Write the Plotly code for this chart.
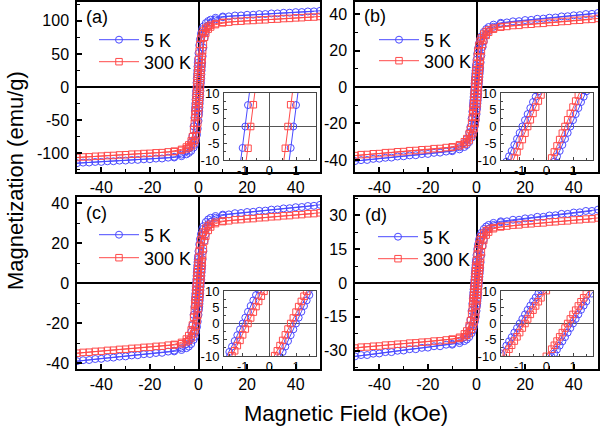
import plotly.graph_objects as go

FONT = "Arial, Liberation Sans, sans-serif"
BLUE = "#4a4aff"
RED = "#ff4a4a"

# ---- magnetic field grids (kOe) ----
H_down = [50, 45, 40, 35, 30, 25, 20, 15, 10, 7, 5, 4, 3, 2, 1.5, 1, 0.6, 0.3, 0,
          -0.2, -0.3, -0.4, -0.5, -0.6, -0.7, -0.8, -0.9, -1.0, -1.1, -1.2, -1.3, -1.4, -1.5,
          -1.7, -2, -2.5, -3, -4, -5, -7, -10,
          -12.5, -17.5, -22.5, -27.5, -32.5, -37.5, -42.5, -47.5]
H_up = [-50, -45, -40, -35, -30, -25, -20, -15, -10, -7, -5, -4, -3, -2, -1.5, -1, -0.6, -0.3, 0,
        0.2, 0.3, 0.4, 0.5, 0.6, 0.7, 0.8, 0.9, 1.0, 1.1, 1.2, 1.3, 1.4, 1.5,
        1.7, 2, 2.5, 3, 4, 5, 7, 10,
        12.5, 17.5, 22.5, 27.5, 32.5, 37.5, 42.5, 47.5]

# ---- magnetization (emu/g) ----
a5_down = [115.2, 114.2, 113.2, 112.2, 111.2, 110.2, 109.2, 108.1, 106.6, 104.6, 101.8, 99.7, 96.6, 91.5, 87.3, 80.5, 71.9, 63.0, 51.2,
           41.8, 36.5, 30.9, 25.1, 19.1, 12.8, 6.4, 0.0, -6.4, -12.8, -19.1, -25.1, -30.9, -36.5,
           -46.7, -59.4, -74.3, -83.5, -92.8, -97.3, -102.2, -105.5,
           -106.8, -108.2, -109.3, -110.3, -111.3, -112.3, -113.3, -114.3]
a5_up = [-115.2, -114.2, -113.2, -112.2, -111.2, -110.2, -109.2, -108.1, -106.6, -104.6, -101.8, -99.7, -96.6, -91.5, -87.3, -80.5, -71.9, -63.0, -51.2,
         -41.8, -36.5, -30.9, -25.1, -19.1, -12.8, -6.4, 0.0, 6.4, 12.8, 19.1, 25.1, 30.9, 36.5,
         46.7, 59.4, 74.3, 83.5, 92.8, 97.3, 102.2, 105.5,
         106.8, 108.2, 109.3, 110.3, 111.3, 112.3, 113.3, 114.3]
a300_down = [106.6, 105.6, 104.5, 103.5, 102.4, 101.4, 100.3, 99.2, 97.7, 95.8, 93.5, 91.6, 89.0, 84.5, 80.4, 73.5, 64.5, 54.6, 41.5,
             31.0, 25.3, 19.2, 12.9, 6.5, 0.0, -6.5, -12.9, -19.2, -25.3, -31.0, -36.4, -41.5, -46.3,
             -54.6, -64.5, -75.2, -81.4, -87.5, -90.7, -94.3, -97.0,
             -98.1, -99.5, -100.6, -101.6, -102.7, -103.7, -104.8, -105.8]
a300_up = [-106.6, -105.6, -104.5, -103.5, -102.4, -101.4, -100.3, -99.2, -97.7, -95.8, -93.5, -91.6, -89.0, -84.5, -80.4, -73.5, -64.5, -54.6, -41.5,
           -31.0, -25.3, -19.2, -12.9, -6.5, 0.0, 6.5, 12.9, 19.2, 25.3, 31.0, 36.4, 41.5, 46.3,
           54.6, 64.5, 75.2, 81.4, 87.5, 90.7, 94.3, 97.0,
           98.1, 99.5, 100.6, 101.6, 102.7, 103.7, 104.8, 105.8]

b5_down = [40.6, 40.0, 39.3, 38.7, 38.0, 37.4, 36.7, 36.0, 35.2, 34.2, 32.9, 31.8, 30.2, 27.8, 26.1, 23.8, 21.1, 18.3, 14.9,
           12.1, 10.5, 8.9, 7.3, 5.5, 3.7, 1.9, 0.0, -1.9, -3.7, -5.5, -7.3, -8.9, -10.5,
           -13.5, -17.3, -21.9, -24.9, -28.5, -30.6, -33.0, -34.7,
           -35.4, -36.1, -36.8, -37.5, -38.1, -38.8, -39.4, -40.1]
b5_up = [-40.6, -40.0, -39.3, -38.7, -38.0, -37.4, -36.7, -36.0, -35.2, -34.2, -32.9, -31.8, -30.2, -27.8, -26.1, -23.8, -21.1, -18.3, -14.9,
         -12.1, -10.5, -8.9, -7.3, -5.5, -3.7, -1.9, 0.0, 1.9, 3.7, 5.5, 7.3, 8.9, 10.5,
         13.5, 17.3, 21.9, 24.9, 28.5, 30.6, 33.0, 34.7,
         35.4, 36.1, 36.8, 37.5, 38.1, 38.8, 39.4, 40.1]
b300_down = [37.6, 37.0, 36.5, 35.9, 35.4, 34.8, 34.3, 33.7, 33.1, 32.3, 31.3, 30.4, 29.0, 26.9, 25.2, 22.8, 19.8, 16.6, 12.7,
             9.4, 7.6, 5.8, 3.9, 2.0, 0.0, -2.0, -3.9, -5.8, -7.6, -9.4, -11.1, -12.7, -14.2,
             -16.6, -19.8, -23.4, -25.7, -28.3, -30.0, -31.7, -32.8,
             -33.2, -33.8, -34.4, -34.9, -35.5, -36.0, -36.6, -37.1]
b300_up = [-37.6, -37.0, -36.5, -35.9, -35.4, -34.8, -34.3, -33.7, -33.1, -32.3, -31.3, -30.4, -29.0, -26.9, -25.2, -22.8, -19.8, -16.6, -12.7,
           -9.4, -7.6, -5.8, -3.9, -2.0, 0.0, 2.0, 3.9, 5.8, 7.6, 9.4, 11.1, 12.7, 14.2,
           16.6, 19.8, 23.4, 25.7, 28.3, 30.0, 31.7, 32.8,
           33.2, 33.8, 34.4, 34.9, 35.5, 36.0, 36.6, 37.1]

c5_down = [39.1, 38.5, 37.9, 37.3, 36.7, 36.1, 35.5, 34.9, 34.2, 33.5, 32.6, 31.8, 30.5, 28.4, 26.9, 24.4, 21.9, 19.3, 15.9,
           13.3, 11.9, 10.4, 8.75, 7.1, 5.4, 3.6, 1.8, 0.0, -1.8, -3.6, -5.4, -7.1, -8.75,
           -11.9, -15.9, -21.1, -24.4, -28.4, -30.5, -32.6, -33.8,
           -34.3, -35.0, -35.6, -36.2, -36.8, -37.4, -38.0, -38.6]
c5_up = [-39.1, -38.5, -37.9, -37.3, -36.7, -36.1, -35.5, -34.9, -34.2, -33.5, -32.6, -31.8, -30.5, -28.4, -26.9, -24.4, -21.9, -19.3, -15.9,
         -13.3, -11.9, -10.4, -8.75, -7.1, -5.4, -3.6, -1.8, 0.0, 1.8, 3.6, 5.4, 7.1, 8.75,
         11.9, 15.9, 21.1, 24.4, 28.4, 30.5, 32.6, 33.8,
         34.3, 35.0, 35.6, 36.2, 36.8, 37.4, 38.0, 38.6]
c300_down = [35.1, 34.6, 34.1, 33.6, 33.1, 32.6, 32.1, 31.6, 31.0, 30.4, 29.4, 28.7, 27.4, 25.4, 23.8, 21.6, 18.8, 16.2, 12.7,
             9.9, 8.4, 6.8, 5.2, 3.5, 1.7, 0.0, -1.7, -3.5, -5.2, -6.8, -8.4, -9.9, -11.3,
             -13.9, -17.1, -21.0, -23.4, -26.3, -28.0, -29.7, -30.7,
             -31.1, -31.7, -32.2, -32.7, -33.2, -33.7, -34.2, -34.7]
c300_up = [-35.1, -34.6, -34.1, -33.6, -33.1, -32.6, -32.1, -31.6, -31.0, -30.4, -29.4, -28.7, -27.4, -25.4, -23.8, -21.6, -18.8, -16.2, -12.7,
           -9.9, -8.4, -6.8, -5.2, -3.5, -1.7, 0.0, 1.7, 3.5, 5.2, 6.8, 8.4, 9.9, 11.3,
           13.9, 17.1, 21.0, 23.4, 26.3, 28.0, 29.7, 30.7,
           31.1, 31.7, 32.2, 32.7, 33.2, 33.7, 34.2, 34.7]

d5_down = [32.6, 32.0, 31.3, 30.7, 30.0, 29.4, 28.7, 28.1, 27.4, 26.7, 25.8, 25.1, 24.0, 22.3, 21.0, 19.2, 17.0, 15.0, 12.4,
           10.3, 9.2, 8.0, 6.8, 5.5, 4.2, 2.8, 1.4, 0.0, -1.4, -2.8, -4.2, -5.5, -6.8,
           -9.2, -12.4, -16.4, -19.2, -22.3, -24.0, -25.8, -27.0,
           -27.4, -28.1, -28.8, -29.4, -30.1, -30.7, -31.4, -32.0]
d5_up = [-32.6, -32.0, -31.3, -30.7, -30.0, -29.4, -28.7, -28.1, -27.4, -26.7, -25.8, -25.1, -24.0, -22.3, -21.0, -19.2, -17.0, -15.0, -12.4,
         -10.3, -9.2, -8.0, -6.8, -5.5, -4.2, -2.8, -1.4, 0.0, 1.4, 2.8, 4.2, 5.5, 6.8,
         9.2, 12.4, 16.4, 19.2, 22.3, 24.0, 25.8, 27.0,
         27.4, 28.1, 28.8, 29.4, 30.1, 30.7, 31.4, 32.0]
d300_down = [28.9, 28.4, 28.0, 27.5, 27.1, 26.6, 26.2, 25.7, 25.2, 24.6, 23.9, 23.2, 22.1, 20.5, 19.2, 17.3, 15.2, 12.9, 10.1,
             7.9, 6.7, 5.4, 4.1, 2.8, 1.4, 0.0, -1.4, -2.8, -4.1, -5.4, -6.7, -7.9, -9.1,
             -11.1, -13.7, -16.8, -18.9, -21.3, -22.6, -24.1, -24.9,
             -25.3, -25.8, -26.3, -26.7, -27.2, -27.6, -28.1, -28.5]
d300_up = [-28.9, -28.4, -28.0, -27.5, -27.1, -26.6, -26.2, -25.7, -25.2, -24.6, -23.9, -23.2, -22.1, -20.5, -19.2, -17.3, -15.2, -12.9, -10.1,
           -7.9, -6.7, -5.4, -4.1, -2.8, -1.4, 0.0, 1.4, 2.8, 4.1, 5.4, 6.7, 7.9, 9.1,
           11.1, 13.7, 16.8, 18.9, 21.3, 22.6, 24.1, 24.9,
           25.3, 25.8, 26.3, 26.7, 27.2, 27.6, 28.1, 28.5]

# ---- labels / ticks ----
series_names = ["5 K", "300 K"]
panel_labels = ["(a)", "(b)", "(c)", "(d)"]
x_tickvals = [-40, -20, 0, 20, 40]
x_ticktext = ["-40", "-20", "0", "20", "40"]
y_tickvals = [[-100, -50, 0, 50, 100], [-40, -20, 0, 20, 40], [-40, -20, 0, 20, 40], [-30, -15, 0, 15, 30]]
y_ticktext = [["-100", "-50", "0", "50", "100"], ["-40", "-20", "0", "20", "40"],
              ["-40", "-20", "0", "20", "40"], ["-30", "-15", "0", "15", "30"]]
y_ranges = [[-128.5, 128.5], [-46.6, 46.6], [-43, 43], [-38.2, 38.2]]
y_minor = [25, 10, 10, 7.5]
in_x_tickvals = [-1, 0, 1]
in_x_ticktext = ["-1", "0", "1"]
in_y_tickvals = [-10, -5, 0, 5, 10]
in_y_ticktext = ["-10", "-5", "0", "5", "10"]

data = [(a5_down, a5_up, a300_down, a300_up),
        (b5_down, b5_up, b300_down, b300_up),
        (c5_down, c5_up, c300_down, c300_up),
        (d5_down, d5_up, d300_down, d300_up)]

W, H = 600, 430
def px(x): return x / W
def py(y): return 1 - y / H

main_xdom = [[px(77), px(320)], [px(355), px(598)], [px(77), px(320)], [px(355), px(598)]]
main_ydom = [[py(172), py(2)], [py(172), py(2)], [py(369), py(197)], [py(369), py(197)]]
ins_xdom = [[px(224), px(316)], [px(501), px(593)], [px(224), px(316)], [px(501), px(593)]]
ins_ydom = [[py(160), py(93)], [py(160), py(93)], [py(356), py(291)], [py(356), py(291)]]
# legend rows: (left x, centre y) for 5 K and 300 K in each panel
legend_rows = [[(94, 40), (94, 62)], [(374, 40), (374, 61)],
               [(94, 235), (94, 258)], [(373, 237), (373, 259)]]
label_pos = [(px(97), py(16.5)), (px(375), py(16)), (px(97), py(213)), (px(376), py(215))]

fig = go.Figure()
styles = [(BLUE, "circle-open", 7), (RED, "square-open", 6.5)]

for i, (m5d, m5u, m3d, m3u) in enumerate(data):
    mx = "x" if i == 0 else f"x{i+1}"
    my = "y" if i == 0 else f"y{i+1}"
    ix, iy = f"x{i+5}", f"y{i+5}"
    for k, ((md, mu), name, (col, sym, sz)) in enumerate(zip([(m5d, m5u), (m3d, m3u)], series_names, styles)):
        n = 2 * i + k + 1
        leg = "legend" if n == 1 else f"legend{n}"
        for ax_x, ax_y, show in [(mx, my, True), (ix, iy, False)]:
            fig.add_trace(go.Scatter(
                x=H_down + H_up, y=md + mu, mode="lines+markers", name=name,
                legend=leg, showlegend=show, xaxis=ax_x, yaxis=ax_y,
                line=dict(color=col, width=1),
                marker=dict(symbol=sym, size=sz, color=col, line=dict(width=1, color=col))))

layout = dict(width=W, height=H, margin=dict(l=0, r=0, t=0, b=0, autoexpand=False),
              paper_bgcolor="white", plot_bgcolor="white",
              font=dict(family=FONT, color="black"))

for i in range(4):
    sx = "" if i == 0 else str(i + 1)
    mx = "x" if i == 0 else f"x{i+1}"
    my = "y" if i == 0 else f"y{i+1}"
    layout["xaxis" + sx] = dict(
        domain=main_xdom[i], range=[-50, 50], anchor=my, automargin=False,
        tickmode="array", tickvals=x_tickvals, ticktext=x_ticktext,
        ticks="inside", ticklen=5, tickwidth=1.5, tickcolor="black",
        minor=dict(tickmode="linear", tick0=0, dtick=10, ticks="inside", ticklen=3, tickwidth=1, tickcolor="black"),
        showline=True, linecolor="black", linewidth=1.5, mirror=True,
        showgrid=False, zeroline=True, zerolinecolor="black", zerolinewidth=1.5,
        tickfont=dict(size=16, family=FONT, color="black"))
    layout["yaxis" + sx] = dict(
        domain=main_ydom[i], range=y_ranges[i], anchor=mx, automargin=False,
        tickmode="array", tickvals=y_tickvals[i], ticktext=y_ticktext[i],
        ticks="inside", ticklen=5, tickwidth=1.5, tickcolor="black",
        minor=dict(tickmode="linear", tick0=0, dtick=y_minor[i], ticks="inside", ticklen=3, tickwidth=1, tickcolor="black"),
        showline=True, linecolor="black", linewidth=1.5, mirror=True,
        showgrid=False, zeroline=True, zerolinecolor="black", zerolinewidth=1.5,
        tickfont=dict(size=16, family=FONT, color="black"), ticklabelstandoff=3)
    j = i + 5
    layout[f"xaxis{j}"] = dict(
        domain=ins_xdom[i], range=[-1.7, 1.75], anchor=f"y{j}", automargin=False,
        tickmode="array", tickvals=in_x_tickvals, ticktext=in_x_ticktext,
        ticks="inside", ticklen=3, tickwidth=1, tickcolor="#444",
        minor=dict(tickmode="linear", tick0=0, dtick=0.5, ticks="inside", ticklen=2, tickwidth=1, tickcolor="#444"),
        showline=True, linecolor="#444", linewidth=1, mirror=True,
        showgrid=False, zeroline=True, zerolinecolor="#555", zerolinewidth=1,
        tickfont=dict(size=13, family=FONT, color="black"), ticklabelstandoff=-2)
    layout[f"yaxis{j}"] = dict(
        domain=ins_ydom[i], range=[-10, 10], anchor=f"x{j}", automargin=False,
        tickmode="array", tickvals=in_y_tickvals, ticktext=in_y_ticktext,
        ticks="inside", ticklen=3, tickwidth=1, tickcolor="#444",
        minor=dict(tickmode="linear", tick0=0, dtick=2.5, ticks="inside", ticklen=2, tickwidth=1, tickcolor="#444"),
        showline=True, linecolor="#444", linewidth=1, mirror=True,
        showgrid=False, zeroline=True, zerolinecolor="#555", zerolinewidth=1,
        tickfont=dict(size=13, family=FONT, color="black"), ticklabelstandoff=1)

for i in range(4):
    for k in range(2):
        n = 2 * i + k + 1
        lname = "legend" if n == 1 else f"legend{n}"
        lx, ly = legend_rows[i][k]
        layout[lname] = dict(x=px(lx), y=py(ly), xanchor="left", yanchor="middle",
                             bgcolor="rgba(0,0,0,0)", borderwidth=0, itemwidth=40,
                             font=dict(size=18, family=FONT, color="black"))

annotations = []
for i, lab in enumerate(panel_labels):
    annotations.append(dict(text=lab, x=label_pos[i][0], y=label_pos[i][1], xref="paper", yref="paper",
                            xanchor="center", yanchor="middle", showarrow=False,
                            font=dict(size=18, family=FONT, color="black")))
annotations.append(dict(text="Magnetization (emu/g)", x=px(15), y=py(181), xref="paper", yref="paper",
                        textangle=-90, xanchor="center", yanchor="middle", showarrow=False,
                        font=dict(size=22, family=FONT, color="black")))
annotations.append(dict(text="Magnetic Field (kOe)", x=px(346), y=py(413), xref="paper", yref="paper",
                        xanchor="center", yanchor="middle", showarrow=False,
                        font=dict(size=22, family=FONT, color="black")))
layout["annotations"] = annotations

fig.update_layout(**layout)
fig.write_html("out.html", config={"displayModeBar": False},
               post_script="document.body.style.margin='0';document.body.style.overflow='hidden';")
